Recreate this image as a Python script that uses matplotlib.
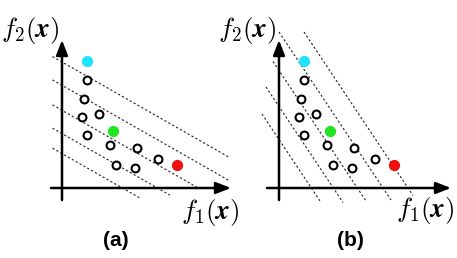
import matplotlib
matplotlib.use("Agg")
import matplotlib.pyplot as plt
import numpy as np

plt.rcParams['mathtext.fontset'] = 'cm'

# Data (objective-space units)
pareto_f1 = [2.5, 2.15, 2.0, 3.7, 2.5, 4.75, 7.5, 5.4, 7.3, 9.6]
pareto_f2 = [10.85, 8.95, 7.15, 7.45, 5.3, 4.35, 4.05, 2.35, 2.05, 2.95]
cyan_pt = (2.5, 12.75)
green_pt = (5.1, 5.75)
red_pt = (11.5, 2.35)

# contour lines: f2 = c + slope * f1
slope_a = -0.57
icpt_a = [12.6, 10.27, 7.77, 5.44, 3.44]
start_a = [-0.95, -0.95, -0.95, -0.95, -0.95]
end_a = [16.8, 16.8, 13.5, 10.8, 7.8]

slope_b = -1.5
icpt_b = [19.35, 15.6, 11.75, 8.15, 4.85]
start_b = [2.5, 0.0, -0.6, -1.3, -1.7]
end_b = [13.4, 11.2, 8.7, 6.4, 4.1]

panel_labels = ['(a)', '(b)']

W, H = 457, 258
fig = plt.figure(figsize=(W / 100, H / 100), dpi=100)

def make_panel(left_px, width_px, origin_px, slope, icpts, starts, ends, label,
               f2_x, f1_pos, lab_x, xaxis_start, xaxis_end):
    ax = fig.add_axes([left_px / W, 0, width_px / W, 1])
    ox = (origin_px[0] - left_px) / 10.0
    oy = (H - origin_px[1]) / 10.0
    ax.set_xlim(-ox, width_px / 10.0 - ox)
    ax.set_ylim(-oy, H / 10.0 - oy)
    ax.axis('off')
    ax.patch.set_alpha(0)
    # dashed contour lines
    for c, s, e in zip(icpts, starts, ends):
        xs = np.array([s, e])
        ax.plot(xs, c + slope * xs, color='#222222', lw=0.8,
                linestyle=(0, (2.0, 2.0)), clip_on=False, zorder=1)
    # axes arrows
    ax.annotate('', xy=(xaxis_end, 0), xytext=(xaxis_start, 0),
                arrowprops=dict(arrowstyle='-|>,head_length=0.9,head_width=0.35',
                                color='black', lw=1.8, shrinkA=0, shrinkB=0),
                annotation_clip=False, zorder=2)
    ax.annotate('', xy=(0, 14.8), xytext=(0, -1.2),
                arrowprops=dict(arrowstyle='-|>,head_length=0.9,head_width=0.35',
                                color='black', lw=1.8, shrinkA=0, shrinkB=0),
                annotation_clip=False, zorder=2)
    # points
    ax.scatter(pareto_f1, pareto_f2, s=32, facecolors='white', edgecolors='black',
               linewidths=1.5, zorder=3, clip_on=False)
    ax.scatter([cyan_pt[0]], [cyan_pt[1]], s=50, color='#1ee3ff', zorder=3, clip_on=False)
    ax.scatter([green_pt[0]], [green_pt[1]], s=50, color='#22e622', zorder=3, clip_on=False)
    ax.scatter([red_pt[0]], [red_pt[1]], s=50, color='#f01010', zorder=3, clip_on=False)
    # labels
    ax.text(f2_x, 15.7, r'$f_2(\boldsymbol{x})$', fontsize=19.5, ha='center', va='center')
    ax.text(f1_pos[0], f1_pos[1], r'$f_1(\boldsymbol{x})$', fontsize=19.5, ha='center', va='center')
    ax.text(lab_x, -5.2, label, fontsize=15, fontweight='bold', family='Liberation Sans',
            ha='center', va='center')
    return ax

make_panel(0, 228, (62, 188), slope_a, icpt_a, start_a, end_a, panel_labels[0],
           -3.2, (14.8, -2.5), 5.4, -1.1, 16.9)
make_panel(228, 229, (279, 188), slope_b, icpt_b, start_b, end_b, panel_labels[1],
           -3.2, (14.6, -2.3), 7.1, -1.2, 17.2)

fig.savefig('out.png', dpi=100)
